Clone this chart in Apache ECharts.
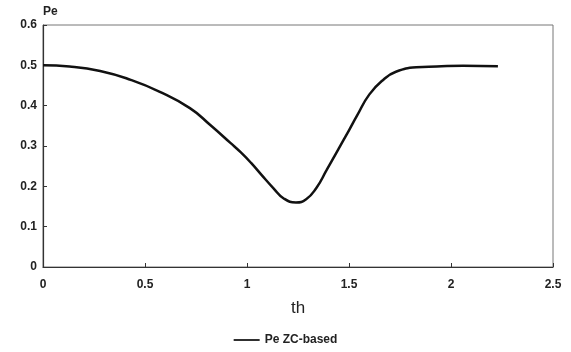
<!DOCTYPE html>
<html>
<head>
<meta charset="utf-8">
<script src="https://cdn.jsdelivr.net/npm/echarts@6/dist/echarts.min.js"></script>
<style>
html,body{margin:0;padding:0;background:#fff;}
#c{width:571px;height:352px;}
</style>
</head>
<body>
<div id="c"></div>
<script>
var seriesName = 'Pe ZC-based';
var th = [0, 0.13, 0.28, 0.43, 0.57, 0.72, 0.82, 0.92, 0.97, 1.02, 1.07, 1.13, 1.18, 1.24, 1.29, 1.34, 1.39, 1.44, 1.50, 1.54, 1.60, 1.67, 1.73, 1.83, 1.93, 2.06, 2.23];
var pe = [0.500, 0.497, 0.486, 0.464, 0.435, 0.394, 0.352, 0.307, 0.284, 0.258, 0.229, 0.195, 0.170, 0.160, 0.168, 0.196, 0.240, 0.285, 0.339, 0.376, 0.428, 0.465, 0.484, 0.495, 0.497, 0.499, 0.498];
var xTickLabels = ['0', '0.5', '1', '1.5', '2', '2.5'];
var yTickLabels = ['0', '0.1', '0.2', '0.3', '0.4', '0.5', '0.6'];

var data = th.map(function (x, i) { return [x, pe[i]]; });
var chart = echarts.init(document.getElementById('c'), null, {renderer: 'canvas'});
var labelFont = {fontFamily: 'Liberation Sans, Arial, sans-serif', fontWeight: 'bold', fontSize: 12, color: '#222'};
chart.setOption({
  animation: false,
  backgroundColor: '#fff',
  grid: {left: 43, top: 25, right: 18, bottom: 85, show: true, borderColor: '#777', borderWidth: 1, backgroundColor: 'transparent'},
  legend: {
    bottom: 1, left: 'center',
    data: [{name: seriesName, icon: 'path://M0,0 L30,0 L30,2 L0,2 Z'}],
    itemWidth: 26, itemHeight: 2, itemGap: 10,
    textStyle: labelFont
  },
  xAxis: {
    type: 'value', min: 0, max: 2.5, interval: 0.5,
    name: 'th', nameLocation: 'middle', nameGap: 33,
    nameTextStyle: {fontFamily: 'Liberation Sans, Arial, sans-serif', fontSize: 17, color: '#222'},
    axisLine: {lineStyle: {color: '#333', width: 1.2}},
    axisTick: {inside: true, length: 4, lineStyle: {color: '#333'}},
    axisLabel: Object.assign({margin: 12, formatter: function (v) { return xTickLabels[Math.round(v / 0.5)]; }}, labelFont),
    splitLine: {show: false}
  },
  yAxis: {
    type: 'value', min: 0, max: 0.6, interval: 0.1,
    name: 'Pe', nameLocation: 'end', nameGap: 7,
    nameTextStyle: {fontFamily: 'Liberation Sans, Arial, sans-serif', fontWeight: 'bold', fontSize: 12, color: '#222', align: 'left'},
    axisLine: {lineStyle: {color: '#333', width: 1.2}},
    axisTick: {inside: true, length: 4, lineStyle: {color: '#333'}},
    axisLabel: Object.assign({margin: 6, formatter: function (v) { return yTickLabels[Math.round(v / 0.1)]; }}, labelFont),
    splitLine: {show: false}
  },
  series: [{
    name: seriesName, type: 'line', data: data, smooth: 0.5, showSymbol: false,
    lineStyle: {color: '#111', width: 2.5}, itemStyle: {color: '#111'}
  }]
});
</script>
</body>
</html>
